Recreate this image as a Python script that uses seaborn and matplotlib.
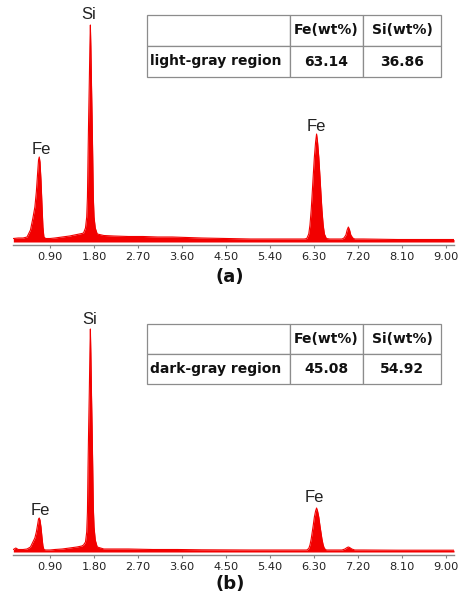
import matplotlib
matplotlib.use("Agg")
import matplotlib.pyplot as plt
import seaborn as sns
import pandas as pd

# ---------------- data ----------------
# Spectrum outline, panel (a): energy (keV) and relative counts
energy_a = [0.15, 0.25, 0.35, 0.43, 0.50, 0.55, 0.59, 0.62, 0.645, 0.665, 0.68, 0.695, 0.715,
            0.735, 0.755, 0.775, 0.81, 0.90, 1.00, 1.15, 1.30, 1.45, 1.55, 1.585, 1.625, 1.65,
            1.665, 1.677, 1.69, 1.703, 1.715, 1.725, 1.735, 1.747, 1.76, 1.773, 1.785, 1.80,
            1.825, 1.865, 2.00, 2.20, 2.50, 2.80, 3.10, 3.40, 3.70, 4.00, 4.50, 5.00, 5.40,
            5.80, 6.10, 6.15, 6.19, 6.215, 6.24, 6.26, 6.28, 6.305, 6.33, 6.35, 6.37, 6.395,
            6.42, 6.44, 6.46, 6.485, 6.51, 6.55, 6.62, 6.70, 6.87, 6.91, 6.95, 6.975, 7.00,
            7.025, 7.05, 7.09, 7.13, 7.30, 7.60, 8.00, 8.50, 9.16]
counts_a = [3.5, 4, 4, 5, 12, 24, 35, 50, 68, 82, 85, 80, 62,
            38, 15, 5, 3.5, 3.5, 4, 5, 6, 7.5, 8.5, 9, 14, 25,
            45, 85, 125, 160, 195, 217, 195, 160, 125, 85, 45, 25,
            14, 8, 6.5, 6, 5.5, 5.5, 5, 5, 4.5, 4, 3.5, 3, 3,
            3, 3, 3.5, 8, 17, 32, 48, 65, 85, 100, 108, 100, 85,
            65, 48, 32, 17, 8, 3.5, 3, 3, 3, 4, 7, 12, 15,
            12, 7, 4, 3, 3, 2.8, 2.5, 2.5, 2.5]

# Spectrum outline, panel (b)
energy_b = [0.15, 0.20, 0.25, 0.35, 0.43, 0.50, 0.55, 0.59, 0.62, 0.645, 0.665, 0.68, 0.695,
            0.715, 0.735, 0.755, 0.775, 0.81, 0.90, 1.00, 1.15, 1.30, 1.45, 1.55, 1.585, 1.625,
            1.65, 1.665, 1.677, 1.69, 1.703, 1.715, 1.725, 1.735, 1.747, 1.76, 1.773, 1.785,
            1.80, 1.825, 1.865, 2.00, 2.50, 3.00, 3.50, 4.00, 5.00, 5.80, 6.10, 6.15, 6.19,
            6.215, 6.24, 6.26, 6.28, 6.305, 6.33, 6.35, 6.37, 6.395, 6.42, 6.44, 6.46, 6.485,
            6.51, 6.55, 6.62, 6.70, 6.87, 6.93, 6.975, 7.00, 7.025, 7.07, 7.13, 7.30, 8.00,
            9.16]
counts_b = [2.5, 4, 2.5, 2.5, 3, 5, 10, 14, 20, 27, 33, 34, 32,
            25, 15, 6, 2.5, 2, 2, 2.5, 3, 4, 5, 6, 7, 10,
            20, 40, 85, 125, 160, 198, 223, 198, 160, 125, 85, 45,
            25, 12, 5, 3, 3, 2.5, 2.5, 2.2, 2, 2, 2, 2, 3.5,
            7, 13, 19.5, 26, 35, 41, 44, 41, 35, 26, 19.5, 13, 7,
            3.5, 2, 2, 2, 2, 3, 4.5, 5, 4.5, 3, 2, 2, 1.8,
            1.8]

tick_values = [0.90, 1.80, 2.70, 3.60, 4.50, 5.40, 6.30, 7.20, 8.10, 9.00]
tick_labels = ["0.90", "1.80", "2.70", "3.60", "4.50", "5.40", "6.30", "7.20", "8.10", "9.00"]

peak_labels = ["Fe", "Si", "Fe"]
peak_label_pos_a = [(0.72, 88), (1.69, 223), (6.35, 111)]
peak_label_pos_b = [(0.71, 37), (1.72, 228), (6.30, 50)]

table_header = ["", "Fe(wt%)", "Si(wt%)"]
table_row_a = ["light-gray region", "63.14", "36.86"]
table_row_b = ["dark-gray region", "45.08", "54.92"]
panel_titles = ["(a)", "(b)"]

# ---------------- figure ----------------
sns.set_theme(style="white")
plt.rcParams["font.family"] = ["DejaVu Sans"]

fig = plt.figure(figsize=(4.62, 5.99), dpi=100)
W, H = 462, 599

def make_axes(top_px, bottom_px):
    left, right = 13, 454
    return fig.add_axes([left / W, 1 - bottom_px / H, (right - left) / W,
                         (bottom_px - top_px) / H])

ax_a = make_axes(10, 245)
ax_b = make_axes(320, 555)

RED = "#f20000"

def draw_panel(ax, energy, counts, label_pos, row, tbl_top, tbl_bottom):
    df = pd.DataFrame({"energy": energy, "counts": counts})
    ax.fill_between(df["energy"], 0, df["counts"], color=RED, linewidth=0)
    sns.lineplot(data=df, x="energy", y="counts", ax=ax, color=RED, linewidth=0.8)
    ax.set_xlim(0.143, 9.16)
    ax.set_ylim(-3, 232)
    ax.set_xlabel("")
    ax.set_ylabel("")
    ax.set_yticks([])
    ax.set_xticks(tick_values)
    ax.set_xticklabels(tick_labels)
    ax.tick_params(axis="x", bottom=True, length=2.5, width=0.8, color="#808080",
                   labelsize=8.2, labelcolor="#222222", pad=2.5, direction="out")
    for s in ["top", "left", "right"]:
        ax.spines[s].set_visible(False)
    ax.spines["bottom"].set_color("#8a8a8a")
    ax.spines["bottom"].set_linewidth(1.0)
    ax.patch.set_alpha(0)

    for name, (x, y) in zip(peak_labels, label_pos):
        ax.text(x, y, name, ha="center", va="baseline", fontsize=12,
                family="Liberation Sans", color="#222222")

    # table
    x0 = (147 - 13) / 441
    w = (441 - 147) / 441
    y0 = tbl_bottom
    h = tbl_top - tbl_bottom
    tbl = ax.table(cellText=[table_header, row], cellLoc="center",
                   colWidths=[143 / 294, 73 / 294, 78 / 294],
                   bbox=[x0, y0, w, h])
    tbl.auto_set_font_size(False)
    for (r, c), cell in tbl.get_celld().items():
        cell.set_edgecolor("#8c8c8c")
        cell.set_linewidth(0.9)
        cell.set_facecolor("white")
        txt = cell.get_text()
        txt.set_fontsize(10)
        txt.set_fontfamily("DejaVu Sans")
        txt.set_fontweight("bold")
        txt.set_color("#111111")
        if c == 0:
            txt.set_ha("left")
            cell.PAD = 0.02

draw_panel(ax_a, energy_a, counts_a, peak_label_pos_a, table_row_a,
           (245 - 15) / 235, (245 - 77) / 235)
draw_panel(ax_b, energy_b, counts_b, peak_label_pos_b, table_row_b,
           (555 - 324) / 235, (555 - 384) / 235)

fig.text(230 / W, 1 - 277 / H, panel_titles[0], ha="center", va="center",
         fontsize=13, fontweight="bold", family="DejaVu Sans", color="#111111")
fig.text(230 / W, 1 - 584 / H, panel_titles[1], ha="center", va="center",
         fontsize=13, fontweight="bold", family="DejaVu Sans", color="#111111")

fig.savefig("out.png", dpi=100)
